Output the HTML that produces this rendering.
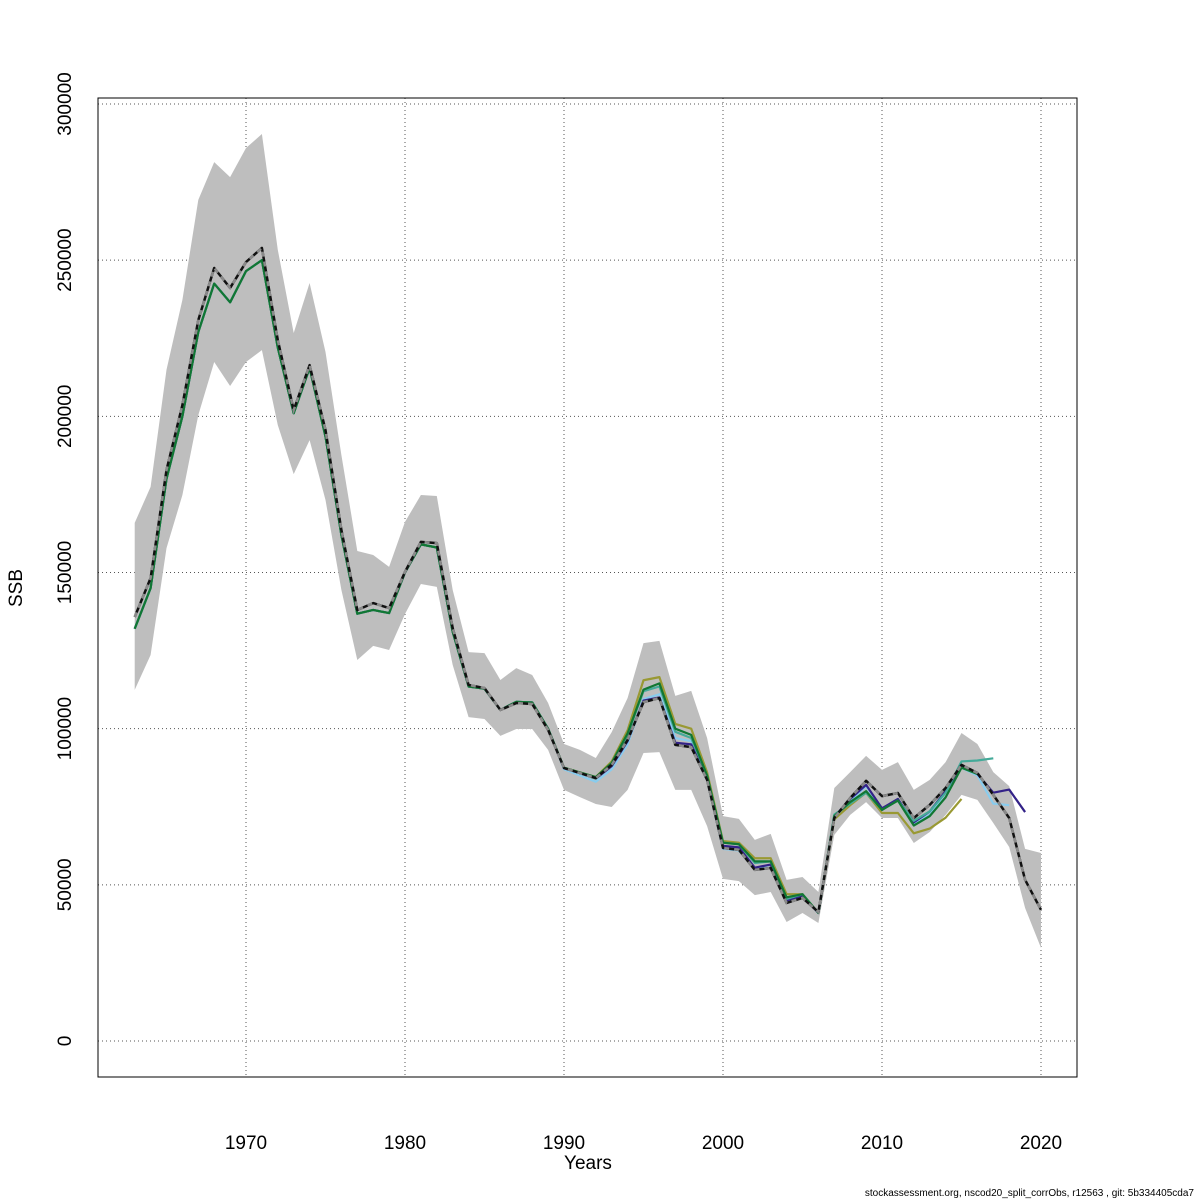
<!DOCTYPE html>
<html><head><meta charset="utf-8"><style>
body{margin:0;background:#fff}
svg{display:block;font-family:"Liberation Sans","DejaVu Sans",sans-serif}
</style></head><body>
<svg id="chart" width="1200" height="1200"></svg>
<script>
const years=[1963,1964,1965,1966,1967,1968,1969,1970,1971,1972,1973,1974,1975,1976,1977,1978,1979,1980,1981,1982,1983,1984,1985,1986,1987,1988,1989,1990,1991,1992,1993,1994,1995,1996,1997,1998,1999,2000,2001,2002,2003,2004,2005,2006,2007,2008,2009,2010,2011,2012,2013,2014,2015,2016,2017,2018,2019,2020];
const ssb=[135750,148200,182800,203600,230800,247500,241100,249400,253900,224400,202000,216400,195600,163600,138000,140200,138600,150200,159800,159400,132200,114000,113000,106000,108200,107900,99600,87400,85800,84200,88400,96400,108500,109800,94800,94100,83600,61800,61200,54800,55400,44200,45800,41300,71400,77800,83300,78400,79400,71400,75600,81000,88400,85800,78800,71400,51600,42000];
const ciHigh=[165900,177400,214900,237300,269300,281400,276600,285900,290400,253300,226700,242700,220600,187600,156900,155600,151800,166200,174800,174500,144400,124500,124200,115600,119400,117200,108200,95100,93200,90600,98900,109800,127400,128100,110500,112100,97000,72000,71100,64400,66300,51600,52500,47700,81000,86100,91300,86800,89300,80400,83600,89300,98600,95100,86100,81600,61500,60200];
const ciLow=[112400,123600,157800,174800,200400,217400,209700,217400,221200,197200,181500,192400,173200,144400,122000,126500,125200,136700,146300,145400,120400,103700,103100,97700,99900,99900,93200,80400,78100,75900,74900,80400,92200,92500,80400,80400,68800,51900,51200,46700,47700,38100,41000,37800,66000,72400,76500,71400,71400,63400,66900,72400,78800,77200,69800,62100,42600,29800];
const retroEarly=[132000,145000,180000,200000,227000,242500,236500,246500,250000,222000,201000,215500,193500,162000,136800,138000,137000,150000,159000,158000,131000,113500,112800,106000,108600,108400,100000];
const r2019=[87400,85800,84000,88000,96000,109000,110000,95500,95000,84000,62500,62000,55500,56500,45000,46500,41000,71800,77500,82000,74500,77500,70000,73500,80000,88000,85500,79500,80500,73300];
const r2018=[87000,85000,83000,87000,95000,109500,111000,97000,96000,83500,61500,61000,55000,56500,44800,46500,41000,71500,77000,81500,74500,77000,69500,72500,79500,87500,85000,76000,75500];
const r2017=[87500,85800,84000,89000,98000,112000,113500,99000,97000,85000,63500,63000,57000,57500,45500,47000,41000,72500,76000,79500,74000,77000,70500,73500,79500,89500,89800,90500];
const r2016=[87500,86000,84500,89000,98500,112500,114500,100000,98000,85000,63500,63000,57500,57500,46000,47000,41000,72000,76500,80000,74000,77000,69000,72000,78000,87500,85500];
const r2015=[87500,86000,84500,89500,99500,115500,116500,101500,100000,86000,64000,63500,58500,58500,47000,47000,41000,71000,75500,79500,73000,73000,66500,68000,71500,77500];
const xTicks=[1970,1980,1990,2000,2010,2020];
const yTicks=[0,50000,100000,150000,200000,250000,300000];

const NS="http://www.w3.org/2000/svg";
const svg=document.getElementById('chart');
const L=98,R=1077,T=98,B=1077;
const X=y=>246+(y-1970)*15.9;
const Y=v=>1041-v*(937/300000);
function mk(tag,attrs,parent){const e=document.createElementNS(NS,tag);for(const k in attrs)e.setAttribute(k,attrs[k]);(parent||svg).appendChild(e);return e;}

xTicks.forEach(t=>{const g=mk('line',{x1:X(t),x2:X(t),y1:T,y2:B,stroke:'#555','stroke-dasharray':'1,3','stroke-width':1});

});
yTicks.forEach(t=>{const g=mk('line',{x1:L,x2:R,y1:Y(t),y2:Y(t),stroke:'#555','stroke-dasharray':'1,3','stroke-width':1});

});

let pts=years.map((y,i)=>X(y)+','+Y(ciHigh[i]));
for(let i=years.length-1;i>=0;i--)pts.push(X(years[i])+','+Y(ciLow[i]));
const band=mk('polygon',{points:pts.join(' '),fill:'#bebebe',stroke:'none'});



function line(vals,color,name,w){
  const early=years.slice(0,retroEarly.length).map((y,i)=>[X(y),Y(retroEarly[i])]);
  const late=vals.map((v,i)=>[X(1990+i),Y(v)]);
  const p=early.concat(late).map(a=>a.join(',')).join(' ');
  const e=mk('polyline',{points:p,fill:'none',stroke:color,'stroke-width':w||2.2,'stroke-linejoin':'round'});
  
  
}
line(r2015,'#999933','retro-line-2015');
line(r2018,'#88ccee','retro-line-2018');
line(r2019,'#332288','retro-line-2019');
line(r2017,'#44aa99','retro-line-2017');
line(r2016,'#117733','retro-line-2016');

const mp=years.map((y,i)=>X(y)+','+Y(ssb[i])).join(' ');
const m1=mk('polyline',{points:mp,fill:'none',stroke:'#111','stroke-width':2.5,'stroke-linejoin':'round'});


const m2=mk('polyline',{points:mp,fill:'none',stroke:'#8a8a8a','stroke-width':2.5,'stroke-dasharray':'5,5'});



const fr=mk('rect',{x:L,y:T,width:R-L,height:B-T,fill:'none',stroke:'#000','stroke-width':1});



xTicks.forEach(t=>{const e=mk('text',{x:X(t),y:1149,'font-size':19,'text-anchor':'middle',fill:'#000'});e.textContent=t;

});
yTicks.forEach(t=>{const e=mk('text',{x:0,y:0,'font-size':19,'text-anchor':'middle',fill:'#000',transform:`translate(71,${Y(t)}) rotate(-90)`});e.textContent=t;

});

const xt=mk('text',{x:588,y:1169,'font-size':19,'text-anchor':'middle'});xt.textContent='Years';


const yt=mk('text',{x:0,y:0,'font-size':19,'text-anchor':'middle',transform:'translate(22,588) rotate(-90)'});yt.textContent='SSB';


const ft=mk('text',{x:1194,y:1196,'font-size':10,'text-anchor':'end'});ft.textContent='stockassessment.org, nscod20_split_corrObs, r12563 , git: 5b334405cda7';


</script>
</body></html>
